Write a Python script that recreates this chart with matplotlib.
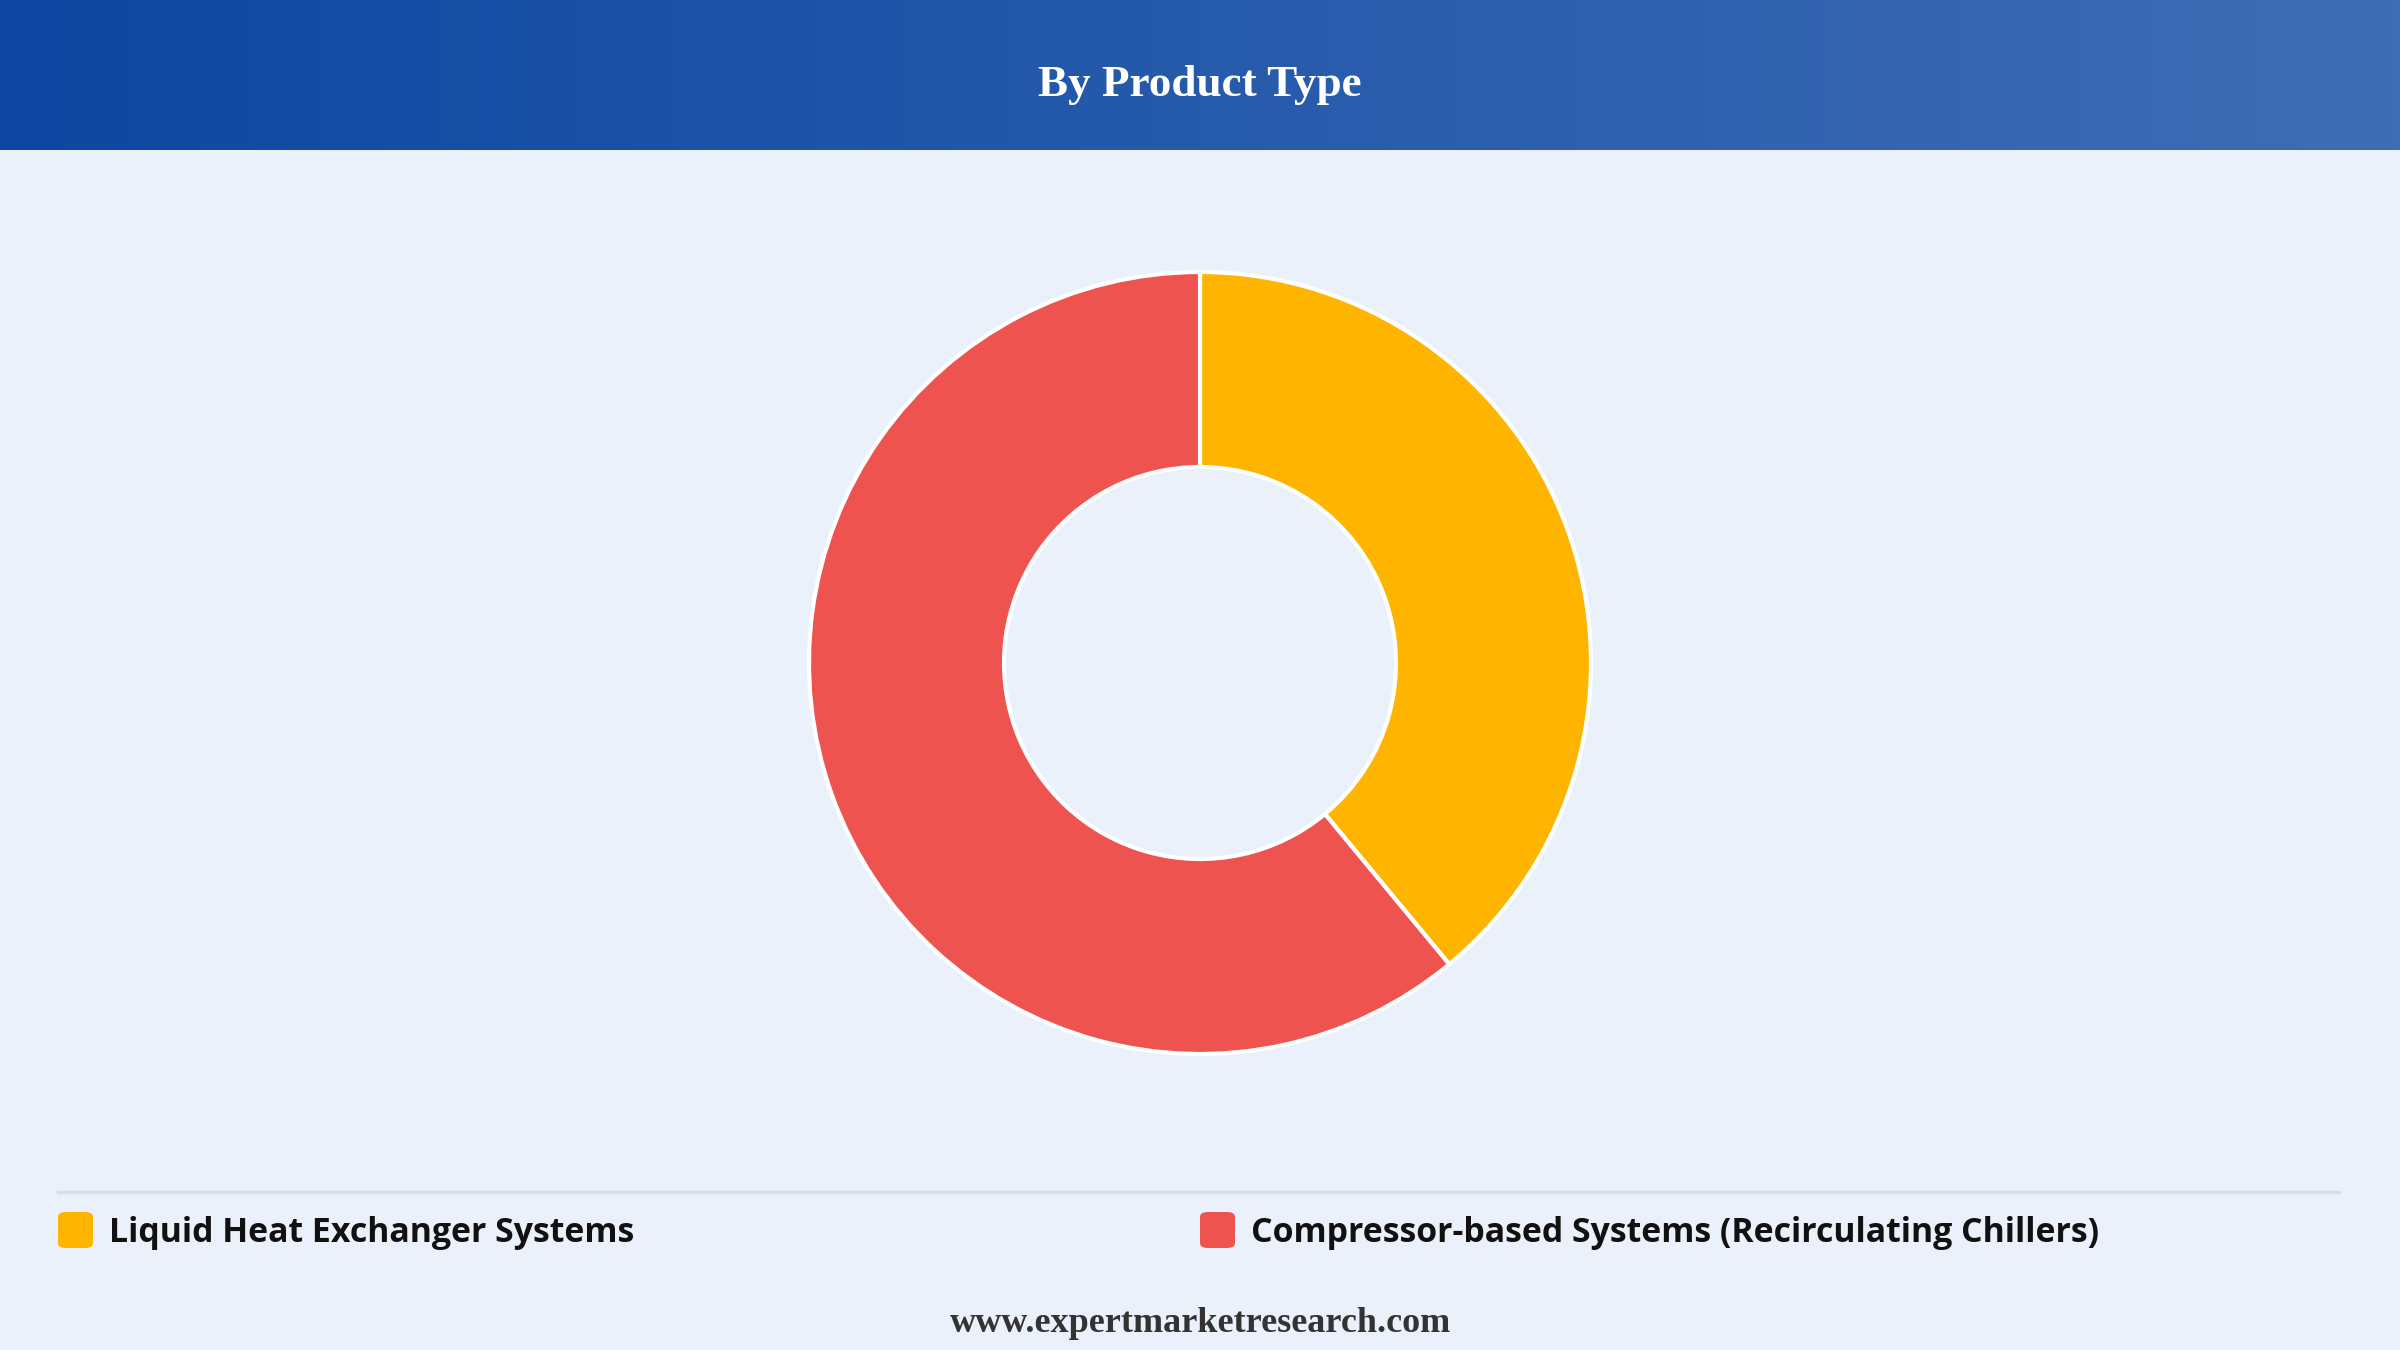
import numpy as np
import matplotlib.pyplot as plt
from matplotlib.patches import FancyBboxPatch
from matplotlib.colors import LinearSegmentedColormap

# data
categories = ["Liquid Heat Exchanger Systems", "Compressor-based Systems (Recirculating Chillers)"]
shares = [39, 61]
colors = ["#FFB400", "#EF5350"]
title = "By Product Type"
footer = "www.expertmarketresearch.com"

W, H = 2400, 1350
fig = plt.figure(figsize=(24, 13.5), dpi=100)
fig.patch.set_facecolor("#EAF1FB")

# header band with gradient
hdr = fig.add_axes([0, 1 - 150 / H, 1, 150 / H])
grad = LinearSegmentedColormap.from_list("hdr", ["#0D47A1", "#3F6DB5"])
hdr.imshow(np.linspace(0, 1, 256).reshape(1, -1), aspect="auto", cmap=grad,
           extent=[0, 1, 0, 1])
hdr.set_axis_off()
fig.text(0.5, 1 - 85 / H, title, ha="center", va="center", color="white",
         fontsize=32.5, fontweight="bold", family="Liberation Serif")

# donut
cx, cy, r_out, r_in = 1200, 663, 391, 196
ax = fig.add_axes([(cx - r_out) / W, (H - cy - r_out) / H, 2 * r_out / W, 2 * r_out / H])
ax.pie(shares, colors=colors, startangle=90, counterclock=False, radius=1,
       wedgeprops=dict(width=1 - r_in / r_out, edgecolor="white", linewidth=3))
ax.set_xlim(-1, 1)
ax.set_ylim(-1, 1)
ax.set_aspect("equal")
ax.set_axis_off()

# separator line
fig.add_artist(plt.Line2D([58 / W, 2339 / W], [1 - 1192 / H, 1 - 1192 / H],
                          color="#DADDE2", linewidth=2.5))

# legend
box_x = [58, 1200]
for i, (lab, col) in enumerate(zip(categories, colors)):
    x0 = box_x[i]
    fig.add_artist(FancyBboxPatch((x0 / W, 1 - 1248 / H), 35 / W, 36 / H,
                                  boxstyle="round,pad=0,rounding_size=0.0035",
                                  facecolor=col, edgecolor="none",
                                  transform=fig.transFigure))
    fig.text((x0 + 51) / W, 1 - 1233 / H, lab, ha="left", va="center",
             fontsize=24.4, fontweight="bold", family="Open Sans", color="#111111")

fig.text(0.5, 1 - 1323 / H, footer, ha="center", va="center", fontsize=26,
         fontweight="bold", family="Liberation Serif", color="#333333")

fig.savefig("out.png", dpi=100, facecolor=fig.get_facecolor())
